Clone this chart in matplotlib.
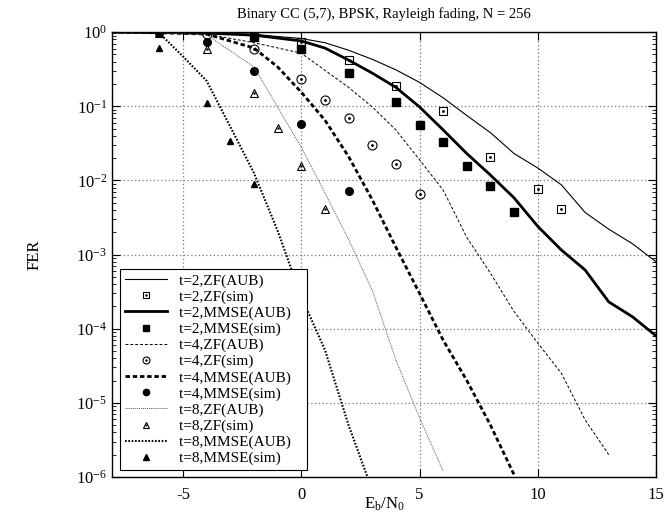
import numpy as np
import matplotlib
matplotlib.use("Agg")
import matplotlib.pyplot as plt
from matplotlib.legend_handler import HandlerTuple

plt.rcParams['font.family'] = ['Liberation Serif', 'DejaVu Serif']
plt.rcParams['mathtext.fontset'] = 'custom'
plt.rcParams['mathtext.rm'] = 'Liberation Serif'
plt.rcParams['mathtext.it'] = 'Liberation Serif'
plt.rcParams['axes.unicode_minus'] = False

TITLE = "Binary CC (5,7), BPSK, Rayleigh fading, N = 256"

# --- AUB curves ---
t2_zf_aub_x = [-8, -6, -4, -2, 0, 1, 2, 3, 4, 5, 6, 7, 8, 9, 10, 11, 12, 13, 14, 15]
t2_zf_aub_y = [1.0, 0.995, 0.98, 0.93, 0.82, 0.72, 0.57, 0.43, 0.31, 0.21, 0.13,
               0.075, 0.044, 0.023, 0.0147, 0.0087, 0.0037, 0.0022, 0.0014, 0.0008]

t2_mmse_aub_x = [-8, -6, -4, -2, 0, 1, 2, 3, 4, 5, 6, 7, 8, 9, 10, 11, 12, 13, 14, 15]
t2_mmse_aub_y = [1.0, 0.99, 0.97, 0.91, 0.76, 0.61, 0.42, 0.28, 0.18, 0.098, 0.048,
                 0.023, 0.0118, 0.0058, 0.0024, 0.00115, 6.2e-4, 2.3e-4, 1.45e-4, 8e-5]

t4_zf_aub_x = [-8, -6, -4, -2, 0, 2, 3, 4, 5, 6, 7, 8, 9, 10, 11, 12, 13]
t4_zf_aub_y = [1.0, 0.99, 0.94, 0.72, 0.52, 0.18, 0.098, 0.048, 0.019, 0.0074,
               0.0017, 5.6e-4, 1.7e-4, 6.4e-5, 2.5e-5, 5.9e-6, 2e-6]

t4_mmse_aub_x = [-8, -6, -4, -2, -1, 0, 1, 2, 3, 4, 5, 6, 7, 8, 9]
t4_mmse_aub_y = [1.0, 0.98, 0.94, 0.61, 0.34, 0.155, 0.065, 0.021, 0.0055, 1.26e-3,
                 3e-4, 7e-5, 2e-5, 5e-6, 1.07e-6]

t8_zf_aub_x = [-8, -6, -4, -2, -1, 0, 1, 2, 3, 4, 5, 6]
t8_zf_aub_y = [1.0, 0.98, 0.92, 0.34, 0.098, 0.028, 0.0068, 0.0016, 3.3e-4, 3.8e-5,
               6.3e-6, 1.2e-6]

t8_mmse_aub_x = [-8, -7, -6, -5, -4, -3, -2, -1, 0, 1, 2, 2.8]
t8_mmse_aub_y = [1.0, 1.0, 0.97, 0.47, 0.22, 0.053, 0.0126, 0.0021, 2.7e-4, 5.2e-5,
                 5e-6, 1e-6]

# --- simulation points ---
t2_zf_sim_x = [0, 2, 4, 6, 8, 10, 11]
t2_zf_sim_y = [0.73, 0.42, 0.19, 0.086, 0.021, 0.0076, 0.0041]

t2_mmse_sim_x = [-2, 0, 2, 4, 5, 6, 7, 8, 9]
t2_mmse_sim_y = [0.86, 0.59, 0.28, 0.114, 0.056, 0.033, 0.0156, 0.0084, 0.0037]

t4_zf_sim_x = [-4, -2, 0, 1, 2, 3, 4, 5]
t4_zf_sim_y = [0.94, 0.59, 0.23, 0.12, 0.069, 0.030, 0.0166, 0.0065]

t4_mmse_sim_x = [-6, -4, -2, 0, 2]
t4_mmse_sim_y = [0.97, 0.73, 0.30, 0.057, 0.0072]

t8_zf_sim_x = [-6, -4, -2, -1, 0, 1]
t8_zf_sim_y = [0.97, 0.59, 0.15, 0.051, 0.0157, 0.0041]

t8_mmse_sim_x = [-6, -4, -3, -2]
t8_mmse_sim_y = [0.61, 0.11, 0.034, 0.0089]

fig = plt.figure(figsize=(6.64, 5.23), dpi=100)
ax = fig.add_axes([0.1687, 0.088, 0.8193, 0.8506])

l1, = ax.plot(t2_zf_aub_x, t2_zf_aub_y, color='black', lw=0.8)
ax.plot(t2_zf_sim_x, t2_zf_sim_y, 's', ms=6, mfc='none', mec='black', mew=0.8)
ax.plot(t2_zf_sim_x, t2_zf_sim_y, '.', ms=2, color='black')
l2, = ax.plot(t2_mmse_aub_x, t2_mmse_aub_y, color='black', lw=2.0)
ax.plot(t2_mmse_sim_x, t2_mmse_sim_y, 's', ms=6, color='black')
l3, = ax.plot(t4_zf_aub_x, t4_zf_aub_y, color='black', lw=0.7, dashes=(3, 2))
ax.plot(t4_zf_sim_x, t4_zf_sim_y, 'o', ms=6.5, mfc='none', mec='black', mew=0.8)
ax.plot(t4_zf_sim_x, t4_zf_sim_y, '.', ms=2, color='black')
l4, = ax.plot(t4_mmse_aub_x, t4_mmse_aub_y, color='black', lw=2.0, dashes=(1.6, 1.0))
ax.plot(t4_mmse_sim_x, t4_mmse_sim_y, 'o', ms=5.5, color='black')
l5, = ax.plot(t8_zf_aub_x, t8_zf_aub_y, color='#555555', lw=0.7, dashes=(1, 1))
ax.plot(t8_zf_sim_x, t8_zf_sim_y, '^', ms=6, mfc='none', mec='black', mew=0.8)
ax.plot(t8_zf_sim_x, t8_zf_sim_y, '.', ms=1.5, color='black')
l6, = ax.plot(t8_mmse_aub_x, t8_mmse_aub_y, color='black', lw=1.5, dashes=(0.8, 0.8))
ax.plot(t8_mmse_sim_x, t8_mmse_sim_y, '^', ms=5, color='black')

# legend proxies (smaller markers, like the reference key)
m1 = (ax.plot([], [], 's', ms=4.5, mfc='none', mec='black', mew=0.8)[0],
      ax.plot([], [], '.', ms=1.5, color='black')[0])
m2 = ax.plot([], [], 's', ms=4.5, color='black')[0]
m3 = (ax.plot([], [], 'o', ms=5, mfc='none', mec='black', mew=0.8)[0],
      ax.plot([], [], '.', ms=1.5, color='black')[0])
m4 = ax.plot([], [], 'o', ms=4.5, color='black')[0]
m5 = (ax.plot([], [], '^', ms=5, mfc='none', mec='black', mew=0.8)[0],
      ax.plot([], [], '.', ms=1, color='black')[0])
m6 = ax.plot([], [], '^', ms=4.5, color='black')[0]

handles = [l1, m1, l2, m2, l3, m3, l4, m4, l5, m5, l6, m6]
labels = ["t=2,ZF(AUB)", "t=2,ZF(sim)", "t=2,MMSE(AUB)", "t=2,MMSE(sim)",
          "t=4,ZF(AUB)", "t=4,ZF(sim)", "t=4,MMSE(AUB)", "t=4,MMSE(sim)",
          "t=8,ZF(AUB)", "t=8,ZF(sim)", "t=8,MMSE(AUB)", "t=8,MMSE(sim)"]

ax.set_yscale('log')
ax.set_xlim(-8, 15)
ax.set_ylim(1e-6, 1)
ax.set_xticks([-5, 0, 5, 10, 15])
ax.set_yticks([1e-6, 1e-5, 1e-4, 1e-3, 1e-2, 1e-1, 1])
ax.tick_params(which='both', direction='in', top=True, right=True, labelsize=12)
ax.tick_params(which='major', length=6)
ax.tick_params(which='minor', length=3)
ax.tick_params(axis='x', pad=7)
ax.grid(True, which='major', color='#777777', ls=(0, (1, 2)), lw=0.9)
for s in ax.spines.values():
    s.set_linewidth(1.0)

ax.set_title(TITLE, fontsize=10.5, pad=10)
ax.set_xlabel(r"E$_\mathrm{b}$/N$_\mathrm{0}$", fontsize=12, labelpad=-5)
ax.set_ylabel("FER", fontsize=12, labelpad=24)

# trailing spaces give the key box the extra room on the right seen in the reference
leg = ax.legend(handles, [s + "   " for s in labels], loc='lower left',
                bbox_to_anchor=(8 / 544, 7 / 445),
                borderaxespad=0, numpoints=1,
                fontsize=11, labelspacing=0.15, handlelength=2.8, handletextpad=0.75,
                borderpad=0.3, frameon=True, fancybox=False, framealpha=1,
                handler_map={tuple: HandlerTuple(ndivide=1)})
leg.get_frame().set_edgecolor('black')
leg.get_frame().set_linewidth(0.8)

fig.savefig("out.png", dpi=100)
